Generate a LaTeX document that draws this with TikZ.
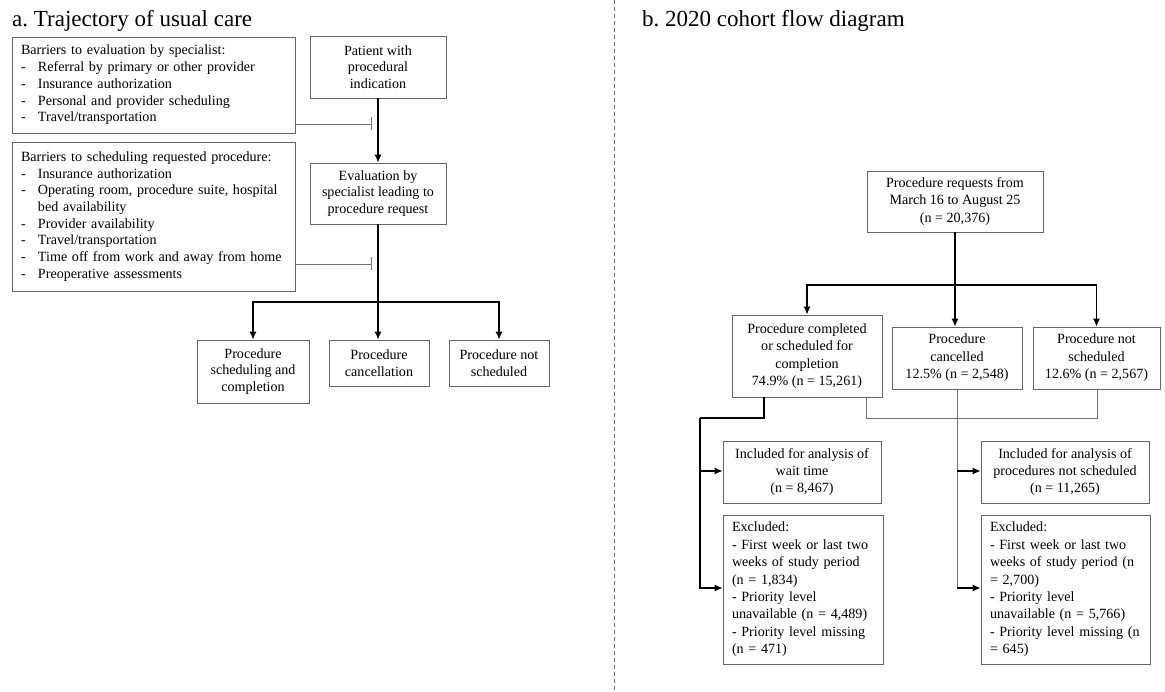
\documentclass[tikz,border=0pt]{standalone}
\usepackage{fontspec}
\setmainfont{Liberation Serif}
\usepackage{tikz}
\usetikzlibrary{arrows.meta, positioning, calc}

\frenchspacing
\newcommand{\itm}[1]{\makebox[17pt][l]{-}#1}
\newcommand{\contd}[1]{\makebox[17pt][l]{\phantom{-}}#1}

\begin{document}
\begin{tikzpicture}[
    x=1pt, y=-1pt,
    box_node/.style={
        rectangle,
        draw=black!60,
        line width=0.8pt,
        inner sep=2pt,
        align=center,
        font=\fontsize{14.1}{16.7}\selectfont
    },
    list_node/.style={
        box_node,
        align=left,
        inner xsep=9pt
    },
    wide_lines/.style={font=\fontsize{14.1}{17.4}\selectfont},
    title_node/.style={
        anchor=base west,
        inner sep=0pt,
        font=\fontsize{23}{26}\selectfont
    },
    arrow/.style={-{Latex[length=8pt,width=7pt]}, line width=1.2pt, black},
    main_line/.style={line width=1.2pt, black},
    thin_line/.style={line width=0.8pt, black!55},
    block_line/.style={-{Bar[width=13pt]}, line width=0.8pt, black!55}
]
    \useasboundingbox (0,0) rectangle (1165,692);

    % Titles
    \node[title_node] (ta) at (12,27) {a. Trajectory of usual care};
    \node[title_node] (tb) at (642,27) {b. 2020 cohort flow diagram};

    % Divider
    \coordinate (dtop) at (614,0);
    \coordinate (dbot) at (614,692);
    \draw[black!55, line width=0.8pt, dash pattern=on 4pt off 3pt] (dtop) -- (dbot);

    % Panel a: nodes
    \node[list_node, text width=265pt, minimum height=96] (bar_eval) at (153.5,85)
        {Barriers to evaluation by specialist:\\
         \itm{Referral by primary or other provider}\\
         \itm{Insurance authorization}\\
         \itm{Personal and provider scheduling}\\
         \itm{Travel/transportation}};

    \node[list_node, text width=265pt, minimum height=149] (bar_sched) at (153.5,216.5)
        {Barriers to scheduling requested procedure:\\
         \itm{Insurance authorization}\\
         \itm{Operating room, procedure suite, hospital}\\
         \contd{bed availability}\\
         \itm{Provider availability}\\
         \itm{Travel/transportation}\\
         \itm{Time off from work and away from home}\\
         \itm{Preoperative assessments}};

    \node[box_node, minimum width=136, minimum height=62] (patient) at (378,67)
        {Patient with\\procedural\\indication};
    \node[box_node, minimum width=136, minimum height=61] (evalu) at (378,193.5)
        {Evaluation by\\specialist leading to\\procedure request};

    \node[box_node, minimum width=112, minimum height=63] (out_done) at (253,371.5)
        {Procedure\\scheduling and\\completion};
    \node[box_node, minimum width=100, minimum height=46] (out_cancel) at (379,363)
        {Procedure\\cancellation};
    \node[box_node, minimum width=100, minimum height=46] (out_none) at (499,363)
        {Procedure not\\scheduled};

    \coordinate (split_a) at (378,302);
    \coordinate (stop_a) at (372,124);
    \coordinate (stop_b) at (372,264);

    % Panel a: arrows
    \draw[arrow] (patient) -- (evalu);
    \draw[block_line] (bar_eval.east |- stop_a) -- (stop_a);
    \draw[block_line] (bar_sched.east |- stop_b) -- (stop_b);
    \draw[arrow] (evalu.south) -- (evalu.south |- out_cancel.north);
    \draw[arrow] (split_a) -| (out_done.north);
    \draw[arrow] (split_a) -| (out_none.north);

    % Panel b: nodes
    \node[box_node, wide_lines, minimum width=176, minimum height=61] (req) at (955,201.5)
        {Procedure requests from\\March 16 to August 25\\(n = 20,376)};

    \node[box_node, wide_lines, minimum width=150, minimum height=82] (compl) at (807,356)
        {Procedure completed\\or scheduled for\\completion\\74.9\% (n = 15,261)};
    \node[box_node, wide_lines, minimum width=130, minimum height=62] (canc) at (957,358)
        {Procedure\\cancelled\\12.5\% (n = 2,548)};
    \node[box_node, wide_lines, minimum width=127, minimum height=62] (nots) at (1096.5,358)
        {Procedure not\\scheduled\\12.6\% (n = 2,567)};

    \node[box_node, wide_lines, minimum width=158, minimum height=62] (inc_wait) at (802,472)
        {Included for analysis of\\wait time\\(n = 8,467)};
    \node[list_node, wide_lines, text width=142pt, minimum height=149] (exc_wait) at (803,589.5)
        {Excluded:\\
         - First week or last two\\
         weeks of study period\\
         (n = 1,834)\\
         - Priority level\\
         unavailable (n = 4,489)\\
         - Priority level missing\\
         (n = 471)};

    \node[box_node, wide_lines, minimum width=168, minimum height=62] (inc_none) at (1065,472)
        {Included for analysis of\\procedures not scheduled\\(n = 11,265)};
    \node[list_node, wide_lines, text width=151pt, minimum height=149] (exc_none) at (1065.5,589.5)
        {Excluded:\\
         - First week or last two\\
         weeks of study period (n\\
         = 2,700)\\
         - Priority level\\
         unavailable (n = 5,766)\\
         - Priority level missing (n\\
         = 645)};

    \coordinate (split_b) at (955,285);
    \coordinate (wait_a) at (764,418);
    \coordinate (wait_b) at (700,418);
    \coordinate (rest_a) at (866,418);
    \coordinate (rest_b) at (1097,418);
    \coordinate (canc_a) at (957,471);
    \coordinate (canc_b) at (957,588);

    % Panel b: arrows
    \draw[arrow] (req.south) -- (req.south |- canc.north);
    \draw[arrow] (split_b) -| (compl.north);
    \draw[arrow] (split_b) -| (nots.north);

    \draw[main_line] (compl.south -| wait_a) -- (wait_a) -- (wait_b);
    \draw[arrow] (wait_b) |- (exc_wait.west |- canc_b);
    \draw[arrow] (wait_b |- canc_a) -- (inc_wait.west |- canc_a);

    \draw[thin_line] (compl.south -| rest_a) -- (rest_a) -- (rest_b) -- (nots.south -| rest_b);
    \draw[thin_line] (canc.south) -- (canc_b);
    \draw[arrow] (canc_a) -- (inc_none.west |- canc_a);
    \draw[arrow] (canc_b) -- (exc_none.west |- canc_b);

\end{tikzpicture}
\end{document}
